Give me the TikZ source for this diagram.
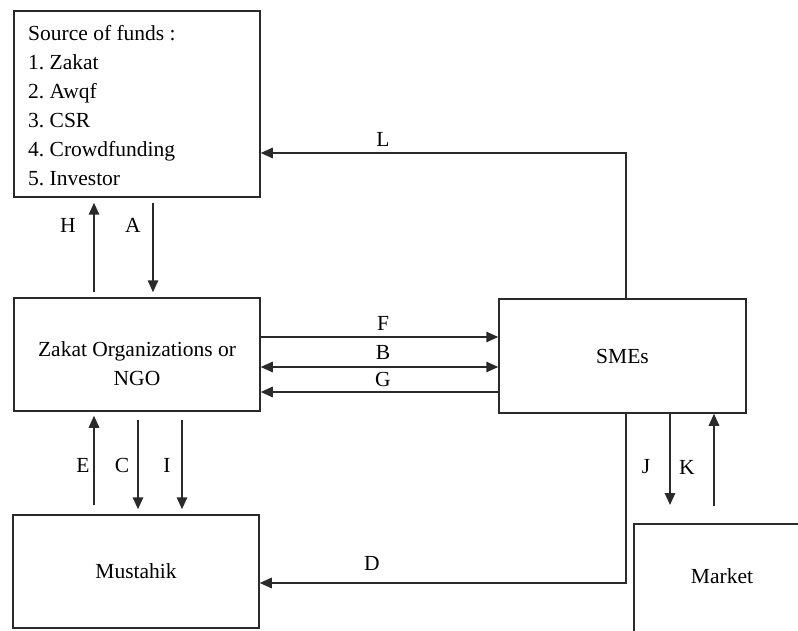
\documentclass[tikz,border=0pt]{standalone}
\usepackage{fontspec}
\setmainfont{Liberation Serif}
\usetikzlibrary{arrows.meta}
\definecolor{linec}{HTML}{2A2A2A}
\tikzset{
  tip/.tip={Triangle[length=12pt,width=10.5pt]},
  box/.style={draw=linec, line width=1.5pt, rectangle, inner sep=0pt},
  conn/.style={draw=linec, line width=1.5pt, -tip},
  conn2/.style={draw=linec, line width=1.5pt, tip-tip},
  lbl/.style={inner sep=0pt}
}
\begin{document}
\frenchspacing
\begin{tikzpicture}[x=1pt,y=-1pt,font=\fontsize{21.5}{29}\selectfont]
\useasboundingbox (0,0) rectangle (798,631);
% boxes
\node[box, minimum width=246pt, minimum height=186pt] (src) at (137,104) {};
\node[lbl, align=left, anchor=west] (srctext) at (28,106)
  {Source of funds :\\1. Zakat\\2. Awqf\\3. CSR\\4. Crowdfunding\\5. Investor};
\node[box, minimum width=246pt, minimum height=113pt] (zak) at (137,354.5) {};
\node[lbl, align=center] (zaktext) at (137,364) {Zakat Organizations or\\NGO};
\node[box, minimum width=247pt, minimum height=114pt] (sme) at (622.5,356) {SMEs};
\node[box, minimum width=246pt, minimum height=113pt] (mus) at (136,571.5) {Mustahik};
\node[box, minimum width=200pt, minimum height=150pt, anchor=north west] (mkt) at (633,523) {};
\node[lbl] (mkttext) at (722,576) {Market};
% helper coordinates
\coordinate (xH) at (94,0);
\coordinate (xA) at (153,0);
\coordinate (xE) at (94,0);
\coordinate (xC) at (138,0);
\coordinate (xI) at (182,0);
\coordinate (xL) at (626,0);
\coordinate (xJ) at (670,0);
\coordinate (xK) at (714,0);
\coordinate (yF) at (0,337);
\coordinate (yB) at (0,367);
\coordinate (yG) at (0,392);
\coordinate (yL) at (0,153);
\coordinate (yD) at (0,583);
\coordinate (Lc) at (626,153);
\coordinate (Dc) at (626,583);
% vertical connectors
\draw[conn, shorten <=5pt, shorten >=5pt] (zak.north -| xH) -- (src.south -| xH);
\draw[conn, shorten <=5pt, shorten >=5pt] (src.south -| xA) -- (zak.north -| xA);
\draw[conn, shorten <=9pt, shorten >=4pt] (mus.north -| xE) -- (zak.south -| xE);
\draw[conn, shorten <=8pt, shorten >=5pt] (zak.south -| xC) -- (mus.north -| xC);
\draw[conn, shorten <=8pt, shorten >=5pt] (zak.south -| xI) -- (mus.north -| xI);
\draw[conn, shorten >=18pt] (sme.south -| xJ) -- (mkt.north -| xJ);
\draw[conn, shorten <=17pt] (mkt.north -| xK) -- (sme.south -| xK);
% horizontal connectors
\draw[conn] (zak.east |- yF) -- (sme.west |- yF);
\draw[conn2] (zak.east |- yB) -- (sme.west |- yB);
\draw[conn] (sme.west |- yG) -- (zak.east |- yG);
\draw[conn] (sme.north -| xL) -- (Lc) -- (src.east |- yL);
\draw[conn] (sme.south -| xL) -- (Dc) -- (mus.east |- yD);
% labels
\node[lbl] (lH) at (68,225) {H};
\node[lbl] (lA) at (133,225) {A};
\node[lbl] (lE) at (83,465) {E};
\node[lbl] (lC) at (122,465) {C};
\node[lbl] (lI) at (167,465) {I};
\node[lbl] (lF) at (383,323) {F};
\node[lbl] (lB) at (383,352) {B};
\node[lbl] (lG) at (383,379) {G};
\node[lbl] (lL) at (383,139) {L};
\node[lbl] (lD) at (372,563) {D};
\node[lbl] (lJ) at (646,467) {J};
\node[lbl] (lK) at (687,467) {K};
\end{tikzpicture}
\end{document}
